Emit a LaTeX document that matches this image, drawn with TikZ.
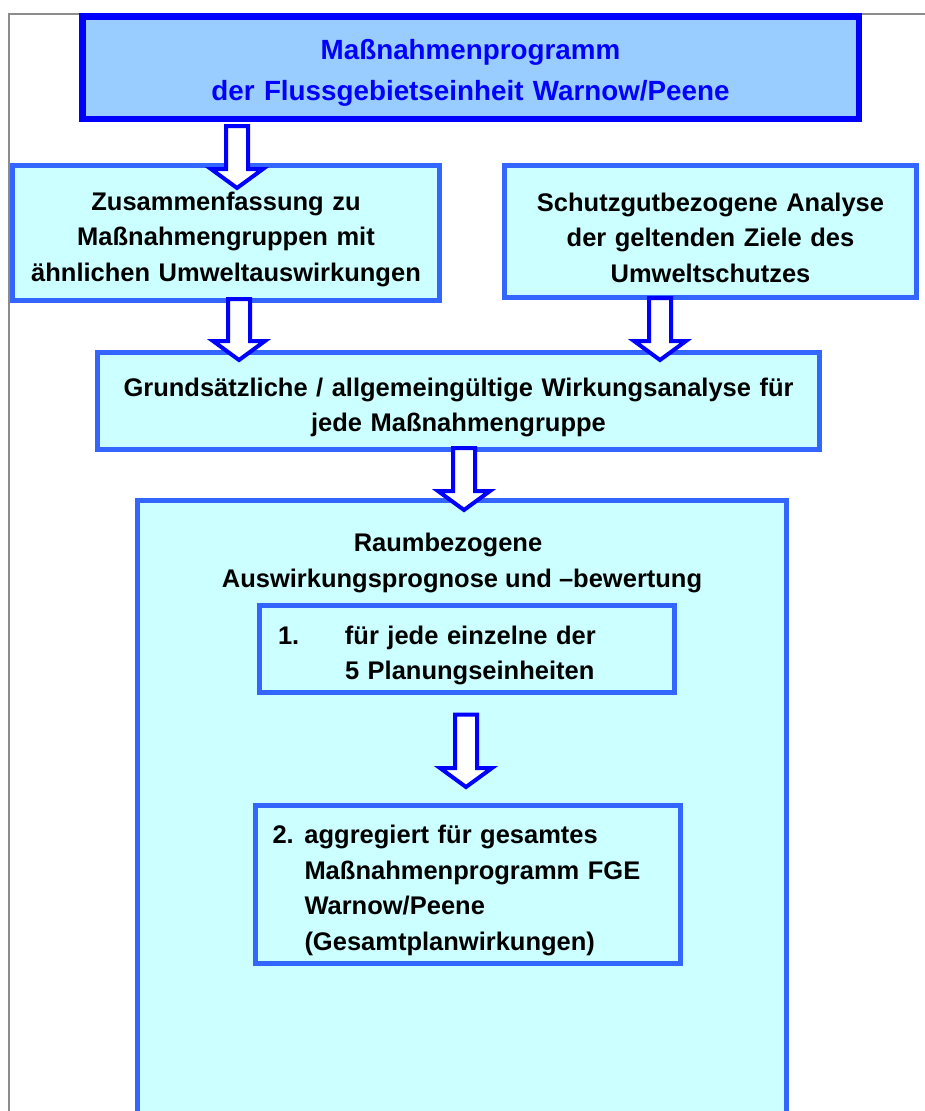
\documentclass[tikz,border=0pt]{standalone}
\usepackage{fontspec}
\setmainfont{Liberation Sans}
\usetikzlibrary{positioning,calc}

\definecolor{topfill}{HTML}{99CCFF}
\definecolor{topline}{HTML}{0000FF}
\definecolor{boxfill}{HTML}{CCFFFF}
\definecolor{boxline}{HTML}{3366FF}
\definecolor{framegray}{HTML}{8C8C8C}

\newcommand{\boxfont}{\bfseries\fontsize{25.5}{35.5}\selectfont}
\newcommand{\topfont}{\bfseries\fontsize{27.8}{41}\selectfont}

% hollow block arrow: from, to, x, start shift, tip shift
\newcommand{\fatarrow}[5]{%
  \draw[fatarrow] let \p1=([yshift=#4pt]#1.south), \p2=([yshift=#5pt]#2.north) in
    (#3pt-11pt,\y1) -- (#3pt-11pt,\y2+19pt) -- (#3pt-26pt,\y2+19pt) -- (#3pt,\y2)
    -- (#3pt+26pt,\y2+19pt) -- (#3pt+11pt,\y2+19pt) -- (#3pt+11pt,\y1) -- cycle;}

\begin{document}
\begin{tikzpicture}[
    x=1pt, y=1pt,
    box/.style={
        rectangle,draw=boxline,fill=boxfill,
        line width=5pt,
        align=center,
        font=\boxfont,
        execute at begin node={\rule{0pt}{31pt}}
    },
    topbox/.style={
        box,draw=topline,fill=topfill,
        line width=6.5pt,
        text=topline,
        font=\topfont,
        execute at begin node={\rule{0pt}{30pt}}
    },
    fatarrow/.style={draw=topline,fill=white,line width=4pt},
    frameline/.style={draw=framegray,line width=1.5pt}
]
\useasboundingbox (0,0) rectangle (925,-1111);
\clip (0,0) rectangle (925,-1111);

\draw[frameline] (9,-1111) -- (9,-14) -- (925,-14);

\node[topbox, text width=750, minimum width=776.5, minimum height=102.5] (prog) at (470.5,-67.5)
    {Maßnahmenprogramm\\der Flussgebietseinheit Warnow/Peene};
\node[box, text width=405, minimum width=427, minimum height=135] (gruppen) at (226,-233)
    {Zusammenfassung zu\\Maßnahmengruppen mit\\ähnlichen Umweltauswirkungen};
\node[box, text width=390, minimum width=412, minimum height=132] (ziele) at (710.5,-231.5)
    {Schutzgutbezogene Analyse\\der geltenden Ziele des\\Umweltschutzes};
\node[box, text width=700, minimum width=722, minimum height=97] (wirkung) at (458.5,-401)
    {Grundsätzliche / allgemeingültige Wirkungsanalyse für\\jede Maßnahmengruppe};
\node[box, minimum width=649, minimum height=700] (raum) at (462,-850.5) {};
\node[font=\boxfont, align=center] (raumtitel) at (462,-563)
    {Raumbezogene\hspace*{28pt}\\Auswirkungsprognose und –bewertung};
\node[box, align=left, text width=378, inner xsep=18.5, minimum height=87] (einheiten) at (467,-649)
    {\makebox[67pt][l]{1.}für jede einzelne der\\\hspace*{67pt}5 Planungseinheiten};
\node[box, align=left, text width=390, inner xsep=17.5, minimum height=158] (gesamt) at (467.5,-884)
    {\makebox[32pt][l]{2.}aggregiert für gesamtes\\\hspace*{32pt}Maßnahmenprogramm FGE\\
     \hspace*{32pt}Warnow/Peene\\\hspace*{32pt}(Gesamtplanwirkungen)};

\fatarrow{prog}{gruppen}{237}{-4}{-25}
\fatarrow{gruppen}{wirkung}{239}{4}{-10}
\fatarrow{ziele}{wirkung}{660}{2}{-10}
\fatarrow{wirkung}{raum}{464}{4}{-12}
\fatarrow{einheiten}{gesamt}{466}{-19.5}{15.5}
\end{tikzpicture}
\end{document}
